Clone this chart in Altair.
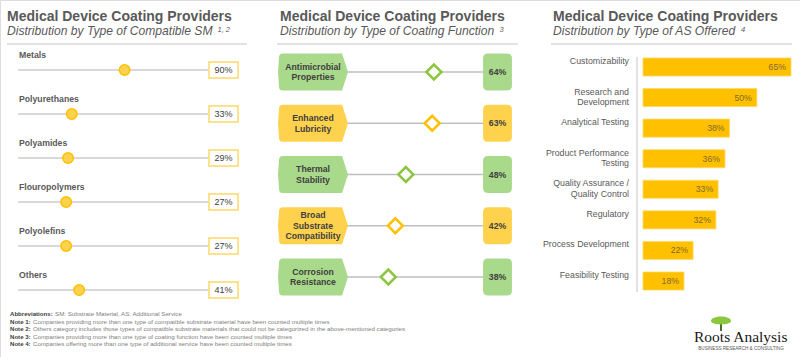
import altair as alt
import pandas as pd

FONT = "Liberation Sans"
GRAY = "#595959"
DARK = "#404040"

# ---------------- data ----------------
title_text = "Medical Device Coating Providers"
panels = ["Compatible SM", "Coating Function", "AS Offered"]
subtitles = [
    "Distribution by Type of Compatible SM",
    "Distribution by Type of Coating Function",
    "Distribution by Type of AS Offered",
]
sup_marks = ["1, 2", "3", "4"]

sm_categories = ["Metals", "Polyurethanes", "Polyamides", "Flouropolymers", "Polyolefins", "Others"]
sm_values = [90, 33, 29, 27, 27, 41]

cf_categories = ["Antimicrobial Properties", "Enhanced Lubricity", "Thermal Stability",
                 "Broad Substrate Compatibility", "Corrosion Resistance"]
cf_labels = ["Antimicrobial\nProperties", "Enhanced\nLubricity", "Thermal\nStability",
             "Broad\nSubstrate\nCompatibility", "Corrosion\nResistance"]
cf_values = [64, 63, 48, 42, 38]

as_categories = ["Customizability", "Research and Development", "Analytical Testing",
                 "Product Performance Testing", "Quality Assurance / Quality Control",
                 "Regulatory", "Process Development", "Feasibility Testing"]
as_labels = ["Customizability", "Research and\nDevelopment", "Analytical Testing",
             "Product Performance\nTesting", "Quality Assurance /\nQuality Control",
             "Regulatory", "Process Development", "Feasibility Testing"]
as_values = [65, 50, 38, 36, 33, 32, 22, 18]

abbrev_prefix = "Abbreviations:"
abbrev_text = "SM: Substrate Material, AS: Additional Service"
note_prefixes = ["Note 1:", "Note 2:", "Note 3:", "Note 4:"]
note_texts = [
    "Companies providing more than one type of compatible substrate material have been counted multiple times",
    "Others category includes those types of compatible substrate materials that could not be categorized in the above-mentioned categories",
    "Companies providing more than one type of coating function have been counted multiple times",
    "Companies offering more than one type of additional service have been counted multiple times",
]
logo_name = "Roots Analysis"
logo_tag = "BUSINESS RESEARCH & CONSULTING"

# ---------------- shapes ----------------
BOX1 = "M -1 -0.55 L 1 -0.55 L 1 0.55 L -1 0.55 Z"
TAG = ("M -0.86 -0.53 L 0.83 -0.53 L 1 0 L 0.83 0.53 L -0.86 0.53 "
       "Q -0.97 0.53 -0.97 0.42 L -1 0 L -0.97 -0.42 Q -0.97 -0.53 -0.86 -0.53 Z")
RBOX = ("M -0.51 -1 L 0.51 -1 Q 0.78 -1 0.78 -0.73 L 0.78 0.73 Q 0.78 1 0.51 1 "
        "L -0.51 1 Q -0.78 1 -0.78 0.73 L -0.78 -0.73 Q -0.78 -1 -0.51 -1 Z")
ELLIPSE = "M -1 0 C -1 -0.6 1 -0.6 1 0 C 1 0.45 -1 0.45 -1 0 Z"


def one(text):
    return pd.DataFrame({"t": [text]})


def label(text, x, y, **kw):
    return alt.Chart(one(text)).mark_text(**kw).encode(
        x=alt.value(x), y=alt.value(y), text="t:N")


def hline(x1, x2, y, color="#d9d9d9", w=1.5):
    return alt.Chart(one("")).mark_rule(color=color, strokeWidth=w).encode(
        x=alt.value(x1), x2=alt.value(x2), y=alt.value(y))


layers = []

# ---------------- titles ----------------
tdf = pd.DataFrame({"p": panels, "t": [title_text] * 3, "s": subtitles})
px = alt.X("p:N", scale=alt.Scale(type="point", domain=panels, range=[7, 553], padding=0), axis=None)
layers.append(alt.Chart(tdf).mark_text(align="left", baseline="alphabetic", fontSize=14,
                                         fontWeight="bold", color=GRAY)
              .encode(x=px, y=alt.value(21), text="t:N"))
layers.append(alt.Chart(tdf).mark_text(align="left", baseline="alphabetic", fontSize=12.1,
                                         fontStyle="italic", color=GRAY)
              .encode(x=px, y=alt.value(35), text="s:N"))
for s, xx in zip(sup_marks, [217.5, 499.5, 741]):
    layers.append(label(s, xx, 31.5, align="left", baseline="alphabetic", fontSize=7.5,
                        fontStyle="italic", color=GRAY))
layers.append(hline(7, 247, 44))
layers.append(hline(277, 518, 44))
layers.append(hline(551, 792, 44))

# ---------------- panel 1 ----------------
df1 = pd.DataFrame({"cat": sm_categories, "val": sm_values,
                    "txt": [f"{v}%" for v in sm_values]})
y1 = alt.Y("cat:N", scale=alt.Scale(type="point", domain=sm_categories, range=[70, 290], padding=0),
           axis=None)
x1 = alt.X("val:Q", scale=alt.Scale(domain=[-25, 180], range=[18, 208]), axis=None)
b1 = alt.Chart(df1)
layers.append(b1.mark_rule(color="#d9d9d9", strokeWidth=2).encode(y=y1, x=alt.value(18), x2=alt.value(208)))
layers.append(b1.mark_point(shape="circle", filled=True, fill="#ffd24d", stroke="#ffc000",
                            strokeWidth=1.5, size=110, opacity=1).encode(y=y1, x=x1))
layers.append(b1.mark_text(align="left", baseline="middle", dy=-15, fontSize=8.7, fontWeight="bold",
                           color=GRAY).encode(y=y1, x=alt.value(19), text="cat:N"))
layers.append(b1.mark_point(shape=BOX1, filled=True, fill="white", stroke="#ffd966", strokeWidth=1.5,
                            size=841, opacity=1).encode(y=y1, x=alt.value(223.5)))
layers.append(b1.mark_text(align="center", baseline="middle", fontSize=9, color=DARK)
              .encode(y=y1, x=alt.value(223.5), text="txt:N"))

# ---------------- panel 2 ----------------
df2 = pd.DataFrame({"cat": cf_categories, "lab": cf_labels, "val": cf_values,
                    "txt": [f"{v}%" for v in cf_values],
                    "nl": [s.count("\n") + 1 for s in cf_labels],
                    "tone": ["a" if i % 2 == 0 else "b" for i in range(len(cf_values))]})
y2 = alt.Y("cat:N", scale=alt.Scale(type="point", domain=cf_categories, range=[72, 277], padding=0),
           axis=None)
x2 = alt.X("val:Q", scale=alt.Scale(domain=[15, 92], range=[348, 483]), axis=None)
tone_fill = alt.Fill("tone:N", scale=alt.Scale(domain=["a", "b"], range=["#a9d98b", "#ffd24d"]), legend=None)
tone_stroke = alt.Stroke("tone:N", scale=alt.Scale(domain=["a", "b"], range=["#8cc63f", "#ffc000"]), legend=None)
b2 = alt.Chart(df2)
LH = 10.6
layers.append(b2.mark_rule(color="#bfbfbf", strokeWidth=1.5).encode(y=y2, x=alt.value(345), x2=alt.value(485)))
layers.append(b2.mark_point(shape=TAG, filled=True, size=4900, opacity=1, strokeWidth=0)
              .encode(y=y2, x=alt.value(313), fill=tone_fill))
for n in (2, 3):
    layers.append(b2.transform_filter(alt.datum.nl == n)
                  .mark_text(align="center", baseline="middle", lineBreak="\n", lineHeight=LH,
                             dy=-(n - 1) * LH / 2, fontSize=8.7, fontWeight="bold", color=DARK)
                  .encode(y=y2, x=alt.value(313), text="lab:N"))
layers.append(b2.mark_point(shape="diamond", filled=True, fill="white", size=225, opacity=1, strokeWidth=2.5)
              .encode(y=y2, x=x2, stroke=tone_stroke))
layers.append(b2.mark_point(shape=RBOX, filled=True, size=1369, opacity=1, strokeWidth=0)
              .encode(y=y2, x=alt.value(497.5), fill=tone_fill))
layers.append(b2.mark_text(align="center", baseline="middle", fontSize=8.7, fontWeight="bold", color=DARK)
              .encode(y=y2, x=alt.value(497.5), text="txt:N"))

# ---------------- panel 3 ----------------
df3 = pd.DataFrame({"cat": as_categories, "lab": as_labels, "val": as_values,
                    "txt": [f"{v}%" for v in as_values]})
y3 = alt.Y("cat:N", scale=alt.Scale(type="band", domain=as_categories, range=[51.7, 296.3],
                                    paddingInner=0.41, paddingOuter=0.205), axis=None)
x3 = alt.X("val:Q", scale=alt.Scale(domain=[0, 65], range=[643, 791]), axis=None)
b3 = alt.Chart(df3)
layers.append(alt.Chart(one("")).mark_rule(color="#d9d9d9", strokeWidth=1.5)
              .encode(x=alt.value(637), y=alt.value(57), y2=alt.value(292)))
layers.append(b3.mark_bar(color="#ffc000", stroke="#ffd966", strokeWidth=0.8).encode(y=y3, x=x3))
layers.append(b3.mark_text(align="right", baseline="middle", dx=-5, fontSize=8.7, color="#7f6a30")
              .encode(y=y3, x=x3, text="txt:N"))
layers.append(b3.mark_text(align="right", baseline="top", dy=-10, lineBreak="\n", lineHeight=10.5,
                           fontSize=8.8, color=GRAY)
              .encode(y=y3, x=alt.value(629), text="lab:N"))

# ---------------- footer ----------------
fkeys = [abbrev_prefix] + note_prefixes
fy = alt.Y("k:N", scale=alt.Scale(type="point", domain=fkeys, range=[314.3, 344], padding=0), axis=None)
fdf = pd.DataFrame({"k": fkeys, "t": [abbrev_text] + note_texts})
layers.append(alt.Chart(fdf).mark_text(align="left", baseline="middle", fontSize=6.1, fontWeight="bold",
                                       color=DARK).encode(y=fy, x=alt.value(10), text="k:N"))
layers.append(alt.Chart(fdf.iloc[:1]).mark_text(align="left", baseline="middle", fontSize=6.2, color="#808080")
              .encode(y=fy, x=alt.value(55), text="t:N"))
layers.append(alt.Chart(fdf.iloc[1:]).mark_text(align="left", baseline="middle", fontSize=6.2, color="#808080")
              .encode(y=fy, x=alt.value(33), text="t:N"))

# ---------------- logo ----------------
layers.append(alt.Chart(one("")).mark_rule(color="#4d6b2a", strokeWidth=2)
              .encode(x=alt.value(721), y=alt.value(321), y2=alt.value(331)))
layers.append(alt.Chart(one("")).mark_point(shape=ELLIPSE, filled=True, color="#8cc63f", size=400, opacity=1)
              .encode(x=alt.value(721), y=alt.value(321)))
layers.append(label(logo_name, 694, 342, align="left", baseline="alphabetic", font="Liberation Serif",
                    fontSize=15.5, color="#1a1a1a"))
layers.append(label(logo_tag, 741, 349, align="center", baseline="middle", fontSize=4.6,
                    color="#555555"))

chart = (
    alt.layer(*layers)
    .resolve_scale(x="independent", y="independent", fill="independent", stroke="independent")
    .properties(width=800, height=357, autosize=alt.AutoSizeParams(type="none"), padding=0)
    .configure_view(stroke="#92d050", strokeWidth=6)
    .configure(font=FONT, background="white")
)

chart.save("out.html", embed_options={"renderer": "svg", "actions": False})
